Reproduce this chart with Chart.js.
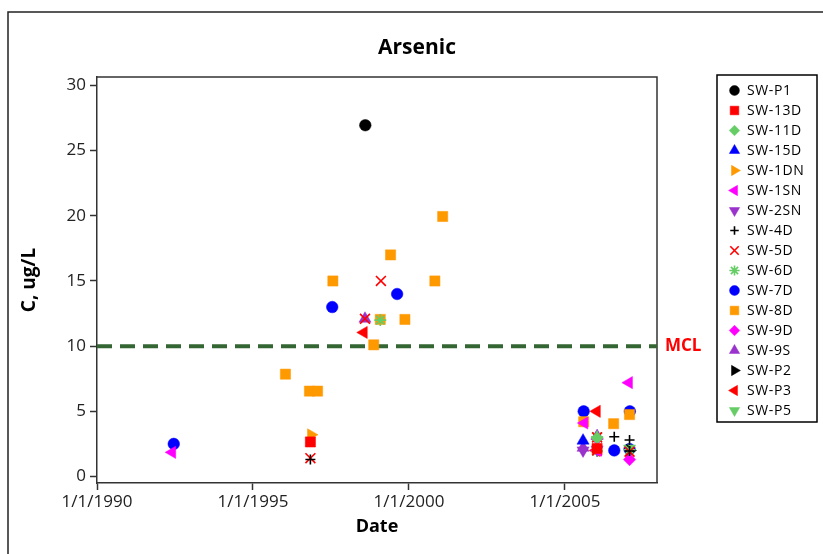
<!DOCTYPE html>
<html><head><meta charset="utf-8">
<script src="https://cdn.jsdelivr.net/npm/chart.js@4.4.0/dist/chart.umd.min.js"></script>
<style>html,body{margin:0;padding:0;background:#fff}#wrap{width:823px;height:554px;position:relative}</style>
</head><body><div id="wrap"><canvas id="c" width="823" height="554"></canvas></div>
<script>
// ---- DATA (x = decimal year, y = concentration ug/L) ----
const titleText = 'Arsenic';
const xTitle = 'Date';
const yTitle = 'C, ug/L';
const xTicks = [1990, 1995, 2000, 2005];
const xTickLabels = ['1/1/1990', '1/1/1995', '1/1/2000', '1/1/2005'];
const yTicks = [0, 5, 10, 15, 20, 25, 30];
const mclValue = 10;
const mclLabel = 'MCL';

const SW_P1  = [[1998.60, 26.95]];
const SW_13D = [[1996.84, 2.65], [2006.03, 2.15]];
const SW_11D = [[2006.03, 2.95]];
const SW_15D = [[2005.58, 2.75]];
const SW_1DN = [[1996.86, 3.2]];
const SW_1SN = [[1992.41, 1.85], [2005.62, 4.1], [2006.05, 2.0], [2007.05, 7.2]];
const SW_2SN = [[2005.58, 2.0], [2006.03, 2.05]];
const SW_4D  = [[1996.84, 1.3], [2006.58, 3.05], [2007.07, 2.8], [2007.07, 1.95]];
const SW_5D  = [[1996.84, 1.4], [1998.59, 12.1], [1999.10, 15.0], [2006.03, 3.0], [2006.03, 2.0], [2007.07, 1.9]];
const SW_6D  = [[1999.08, 12.0], [2006.03, 3.05], [2006.03, 1.95], [2007.07, 2.05]];
const SW_7D  = [[1992.46, 2.5], [1997.54, 13.0], [1999.62, 14.0], [2005.60, 5.0], [2006.58, 2.0], [2007.08, 5.0], [2007.07, 2.1]];
const SW_8D  = [[1996.04, 7.85], [1996.81, 6.55], [1997.07, 6.55], [1997.56, 15.0], [1998.87, 10.1], [1999.08, 12.05], [1999.41, 17.0], [1999.87, 12.05], [2000.83, 15.0], [2001.08, 19.95], [2005.60, 4.2], [2006.56, 4.05], [2007.07, 4.75]];
const SW_9D  = [[2006.03, 2.9], [2007.07, 1.3]];
const SW_9S  = [[1998.59, 12.1], [2005.58, 2.2], [2006.03, 3.1]];
const SW_P2  = [[2007.07, 2.0]];
const SW_P3  = [[1998.55, 11.05], [2006.02, 5.0], [2006.0, 2.0]];
const SW_P5  = [[2007.07, 2.15]];

const seriesNames = ['SW-P1','SW-13D','SW-11D','SW-15D','SW-1DN','SW-1SN','SW-2SN','SW-4D','SW-5D','SW-6D','SW-7D','SW-8D','SW-9D','SW-9S','SW-P2','SW-P3','SW-P5'];
const seriesData  = [SW_P1, SW_13D, SW_11D, SW_15D, SW_1DN, SW_1SN, SW_2SN, SW_4D, SW_5D, SW_6D, SW_7D, SW_8D, SW_9D, SW_9S, SW_P2, SW_P3, SW_P5];

// ---- STYLES ----
const ORANGE = '#ff9900', RED = '#ff0000', GREEN = '#66cc66', BLUE = '#0000ff', MAG = '#ff00ff', PURP = '#9933cc', BLK = '#000000';
const styleTable = {
  'SW-P1':  {s:'circle',   r:5.8, rot:0,   c:BLK},
  'SW-13D': {s:'rect',     r:7.2, rot:0,   c:RED},
  'SW-11D': {s:'rectRot',  r:6.2, rot:0,   c:GREEN},
  'SW-15D': {s:'triangle', r:7,   rot:0,   c:BLUE},
  'SW-1DN': {s:'triangle', r:7,   rot:90,  c:ORANGE},
  'SW-1SN': {s:'triangle', r:7,   rot:270, c:MAG},
  'SW-2SN': {s:'triangle', r:7,   rot:180, c:PURP},
  'SW-4D':  {s:'cross',    r:5,   rot:0,   c:BLK, line:true},
  'SW-5D':  {s:'crossRot', r:7,   rot:0,   c:RED, line:true},
  'SW-6D':  {s:'star',     r:6,   rot:0,   c:GREEN, line:true},
  'SW-7D':  {s:'circle',   r:5.8, rot:0,   c:BLUE, order:1},
  'SW-8D':  {s:'rect',     r:7.2, rot:0,   c:ORANGE},
  'SW-9D':  {s:'rectRot',  r:6.2, rot:0,   c:MAG},
  'SW-9S':  {s:'triangle', r:7,   rot:0,   c:PURP},
  'SW-P2':  {s:'triangle', r:7,   rot:90,  c:BLK},
  'SW-P3':  {s:'triangle', r:7,   rot:270, c:RED},
  'SW-P5':  {s:'triangle', r:7,   rot:180, c:GREEN}
};

const xMin = 1990, xMax = 2007.95, yMin = -0.5, yMax = 30.65;
const FONT = '"Open Sans", "DejaVu Sans", sans-serif';
Chart.defaults.font.family = FONT;
Chart.defaults.color = '#000';

const datasets = seriesNames.map((name, i) => {
  const st = styleTable[name];
  return {
    type: 'scatter',
    label: name,
    data: seriesData[i].map(p => ({x: p[0], y: p[1]})),
    pointStyle: st.s,
    pointRotation: st.rot,
    pointRadius: st.r,
    pointHoverRadius: st.r,
    backgroundColor: st.c,
    borderColor: st.c,
    pointBorderWidth: st.line ? 1.6 : 0.5,
    order: st.order || 0
  };
});
datasets.push({
  type: 'line',
  label: mclLabel,
  data: [{x: xMin, y: mclValue}, {x: xMax, y: mclValue}],
  borderColor: '#336633',
  borderWidth: 4,
  borderDash: [15, 8],
  pointRadius: 0,
  fill: false,
  order: 5
});

const decor = {
  id: 'decor',
  beforeDraw(chart) {
    const ctx = chart.ctx;
    ctx.save();
    ctx.fillStyle = '#fff';
    ctx.fillRect(0, 0, chart.width, chart.height);
    ctx.strokeStyle = '#222';
    ctx.lineWidth = 1.5;
    ctx.beginPath();
    ctx.moveTo(8, chart.height); ctx.lineTo(8, 12); ctx.lineTo(chart.width, 12);
    ctx.stroke();
    ctx.restore();
  },
  beforeDatasetsDraw(chart) {
    const {ctx, chartArea: a} = chart;
    ctx.save();
    ctx.strokeStyle = '#333';
    ctx.lineWidth = 1.5;
    ctx.beginPath();
    ctx.moveTo(a.left, a.top); ctx.lineTo(a.right, a.top); ctx.lineTo(a.right, a.bottom);
    ctx.stroke();
    ctx.restore();
  },
  afterDraw(chart) {
    const {ctx, chartArea: a} = chart;
    ctx.save();
    ctx.fillStyle = '#000';
    ctx.font = 'bold 21px ' + FONT;
    ctx.textAlign = 'center';
    ctx.textBaseline = 'middle';
    ctx.fillText(titleText, 417, 48);
    ctx.fillStyle = '#ff0000';
    ctx.font = 'bold 17px ' + FONT;
    ctx.textAlign = 'left';
    ctx.fillText(mclLabel, a.right + 8, chart.scales.y.getPixelForValue(mclValue));
    // legend
    const lx = 717, ly = 75, lw = 100, lh = 347;
    ctx.strokeStyle = '#000';
    ctx.lineWidth = 1.5;
    ctx.strokeRect(lx, ly, lw, lh);
    ctx.font = '14px ' + FONT;
    ctx.textBaseline = 'middle';
    try { ctx.letterSpacing = '0.6px'; } catch (e) {}
    seriesNames.forEach((name, i) => {
      const st = styleTable[name];
      const y = 90.5 + i * 20;
      ctx.fillStyle = st.c;
      ctx.strokeStyle = st.c;
      ctx.lineWidth = st.line ? 1.6 : 0.5;
      Chart.helpers.drawPoint(ctx, {pointStyle: st.s, rotation: st.rot, radius: st.r * 0.85, borderWidth: st.line ? 1.6 : 0.5}, 734.5, y);
      ctx.fillStyle = '#000';
      ctx.fillText(name, 747, y + 1);
    });
    ctx.restore();
  }
};

new Chart(document.getElementById('c'), {
  type: 'scatter',
  data: {datasets},
  options: {
    responsive: false,
    animation: false,
    devicePixelRatio: 1,
    layout: {padding: {left: 0, right: 166, top: 77, bottom: 0}},
    plugins: {legend: {display: false}, title: {display: false}, tooltip: {enabled: false}},
    scales: {
      x: {
        type: 'linear', min: xMin, max: xMax,
        afterBuildTicks: s => { s.ticks = xTicks.map(v => ({value: v})); },
        afterFit: s => { s.height = 71; },
        ticks: {callback: (v, i) => xTickLabels[i], font: {size: 17}, color: '#222', padding: 2, maxRotation: 0, autoSkip: false},
        grid: {drawOnChartArea: false, drawTicks: true, tickLength: 7, tickColor: '#333', tickWidth: 1.5},
        border: {display: true, color: '#333', width: 1.5},
        title: {display: true, text: xTitle, font: {size: 18, weight: 'bold'}, color: '#000', padding: {top: 0, bottom: 16}}
      },
      y: {
        type: 'linear', min: yMin, max: yMax,
        afterBuildTicks: s => { s.ticks = yTicks.map(v => ({value: v})); },
        afterFit: s => { s.width = 97; },
        ticks: {callback: v => String(v), font: {size: 17}, color: '#222', padding: 4},
        grid: {drawOnChartArea: false, drawTicks: true, tickLength: 7, tickColor: '#333', tickWidth: 1.5},
        border: {display: true, color: '#333', width: 1.5},
        title: {display: true, text: yTitle, font: {size: 19, weight: 'bold'}, color: '#000', padding: {top: 18, bottom: 0}}
      }
    }
  },
  plugins: [decor]
});
</script>
</body></html>
